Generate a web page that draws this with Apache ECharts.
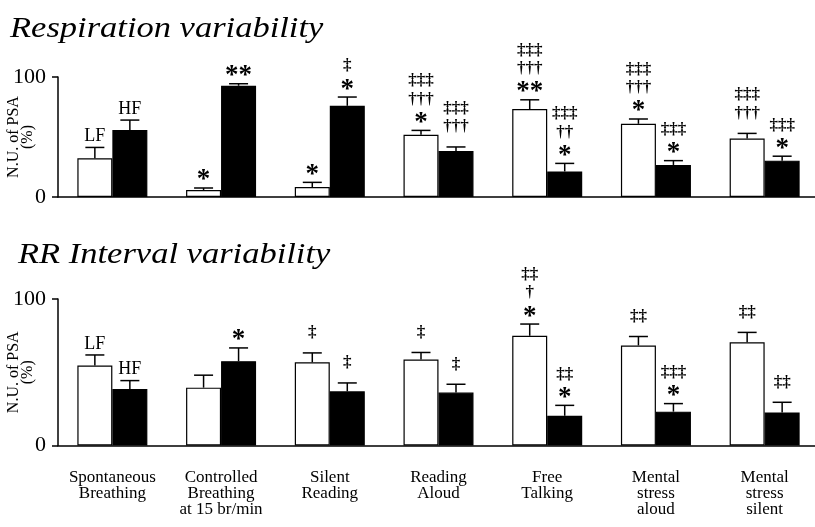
<!DOCTYPE html>
<html><head><meta charset="utf-8">
<script src="https://cdn.jsdelivr.net/npm/echarts@6/dist/echarts.min.js"></script>
<style>html,body{margin:0;padding:0;background:#fff}#c{width:815px;height:527px}</style>
</head><body><div id="c"></div>
<script>
const categories = ["Spontaneous\nBreathing", "Controlled\nBreathing\nat 15 br/min", "Silent\nReading", "Reading\nAloud", "Free\nTalking", "Mental\nstress\naloud", "Mental\nstress\nsilent"];
const yTicks = [0, 100];

const respLF = [32.3, 5.8, 8.3, 51.9, 73.3, 61.0, 48.8];
const respLFErr = [9.0, 1.7, 3.9, 3.6, 7.7, 4.0, 4.2];
const respHF = [55.8, 92.7, 76.0, 38.3, 21.3, 26.7, 30.3];
const respHFErr = [8.3, 1.7, 7.3, 3.4, 6.7, 3.6, 3.7];
const respLFMarks = ["LF", "*", "*", "‡‡‡\n†††\n*", "‡‡‡\n†††\n**", "‡‡‡\n†††\n*", "‡‡‡\n†††"];
const respHFMarks = ["HF", "**", "‡\n*", "‡‡‡\n†††", "‡‡‡\n††\n*", "‡‡‡\n*", "‡‡‡\n*"];

const rrLF = [54.6, 39.5, 56.8, 58.7, 74.9, 68.3, 70.5];
const rrLFErr = [7.2, 8.5, 6.4, 4.8, 8.0, 6.1, 6.7];
const rrHF = [38.6, 57.5, 37.0, 36.1, 20.3, 23.1, 22.6];
const rrHFErr = [5.7, 9.1, 5.7, 5.7, 7.1, 5.5, 6.9];
const rrLFMarks = ["LF", "", "‡", "‡", "‡‡\n†\n*", "‡‡", "‡‡"];
const rrHFMarks = ["HF", "*", "‡", "‡", "‡‡\n*", "‡‡‡\n*", "‡‡"];

const titles = ["Respiration variability", "RR Interval variability"];
const yName = "N.U. of PSA\n(%)";

const SERIF = '"Liberation Serif", "Times New Roman", serif';
const BAR_W = 35, CAP_W = 19;

const chart = echarts.init(document.getElementById('c'), null, {renderer: 'canvas'});

function errSeries(g, vals, errs, marks, side) {
  return {
    type: 'custom', xAxisIndex: g, yAxisIndex: g, z: 5, clip: false, silent: true,
    data: vals.map((v, i) => [i, v, errs[i]]),
    encode: {x: 0, y: 1},
    renderItem(params, api) {
      const i = api.value(0), v = api.value(1), e = api.value(2);
      const p0 = api.coord([i, v]);
      const p1 = api.coord([i, v + e]);
      const x = p0[0] + side * BAR_W / 2;
      const children = [
        {type: 'line', shape: {x1: x, y1: p0[1], x2: x, y2: p1[1]}, style: {stroke: '#000', lineWidth: 1.5}},
        {type: 'line', shape: {x1: x - CAP_W / 2, y1: p1[1], x2: x + CAP_W / 2, y2: p1[1]}, style: {stroke: '#000', lineWidth: 1.5}}
      ];
      const lines = marks[i] ? marks[i].split('\n') : [];
      const n = lines.length;
      if (n) {
        const last = lines[n - 1];
        let gap = 20;
        if (last.indexOf('*') >= 0) gap = 12.5;
        else if (/[A-Z]/.test(last)) gap = 11;
        lines.forEach((ln, k) => {
          let yc = p1[1] - gap - (n - 1 - k) * 18.5;
          let font;
          if (ln.indexOf('*') >= 0) { font = 'bold 27px ' + SERIF; yc += 5; }
          else if (/[A-Z]/.test(ln)) { font = '18px ' + SERIF; }
          else { font = 'bold 17px ' + SERIF; }
          children.push({type: 'text', style: {text: ln, x: x, y: yc, align: 'center', verticalAlign: 'middle', font: font, fill: '#000'}});
        });
      }
      return {type: 'group', children: children};
    }
  };
}

function barSeries(g, vals, fill) {
  return {
    type: 'bar', xAxisIndex: g, yAxisIndex: g, data: vals, barWidth: BAR_W, barGap: '0%',
    itemStyle: {color: fill, borderColor: '#000', borderWidth: 1.2}, silent: true, animation: false
  };
}

const axisLine = {show: true, lineStyle: {color: '#000', width: 1.5}};

function xAx(g, showLabels) {
  return {
    gridIndex: g, type: 'category', data: categories,
    axisLine: axisLine, axisTick: {show: false},
    axisLabel: {show: showLabels, interval: 0, fontFamily: SERIF, fontSize: 17, lineHeight: 16, color: '#000', margin: 24}
  };
}
function yAx(g) {
  return {
    gridIndex: g, type: 'value', min: yTicks[0], max: yTicks[1], interval: yTicks[1] - yTicks[0],
    axisLine: axisLine, axisTick: {show: true, length: 6, lineStyle: {color: '#000', width: 1.5}},
    axisLabel: {fontFamily: SERIF, fontSize: 22, color: '#000', margin: 12},
    splitLine: {show: false},
    name: yName, nameLocation: 'middle', nameGap: 23, nameMoveOverlap: false,
    nameTextStyle: {fontFamily: SERIF, fontSize: 16, lineHeight: 14, color: '#000'}
  };
}

chart.setOption({
  animation: false,
  backgroundColor: '#fff',
  graphic: [
    {type: 'text', left: 10, top: 14, scaleX: 1.15, style: {text: titles[0], font: 'italic 30px ' + SERIF, fill: '#000'}},
    {type: 'text', left: 18, top: 240, scaleX: 1.15, style: {text: titles[1], font: 'italic 30px ' + SERIF, fill: '#000'}}
  ],
  grid: [
    {left: 58, right: -4, top: 77, height: 120, outerBoundsMode: 'none', containLabel: false},
    {left: 58, right: -4, top: 299, height: 146.5, outerBoundsMode: 'none', containLabel: false}
  ],
  xAxis: [xAx(0, false), xAx(1, true)],
  yAxis: [yAx(0), yAx(1)],
  series: [
    barSeries(0, respLF, '#fff'), barSeries(0, respHF, '#000'),
    errSeries(0, respLF, respLFErr, respLFMarks, -1), errSeries(0, respHF, respHFErr, respHFMarks, 1),
    barSeries(1, rrLF, '#fff'), barSeries(1, rrHF, '#000'),
    errSeries(1, rrLF, rrLFErr, rrLFMarks, -1), errSeries(1, rrHF, rrHFErr, rrHFMarks, 1)
  ]
});
</script></body></html>
